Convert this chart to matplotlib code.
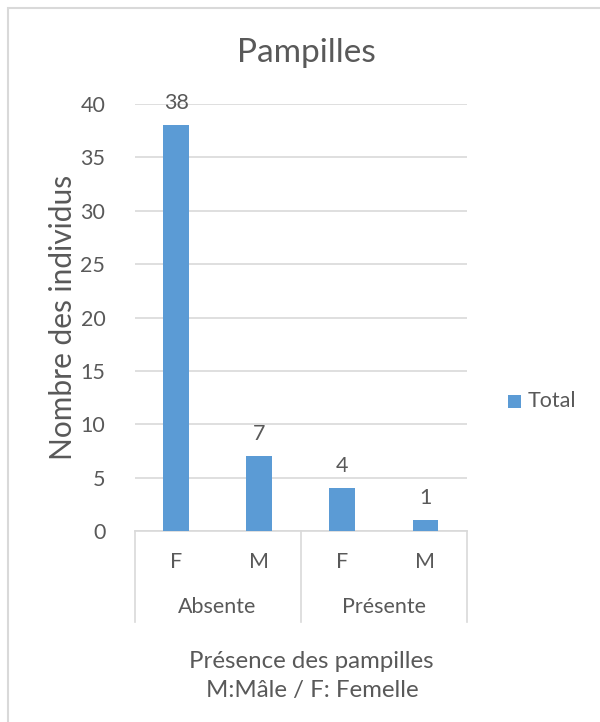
import matplotlib
matplotlib.use("Agg")
import matplotlib.pyplot as plt
import matplotlib.transforms as mtransforms
from matplotlib.patches import Rectangle

# Data
sexes = ["F", "M", "F", "M"]
groups = ["Absente", "Présente"]
totals = [38, 7, 4, 1]
yticks = [0, 5, 10, 15, 20, 25, 30, 35, 40]

plt.rcParams["font.family"] = ["Lato", "DejaVu Sans"]
TXT = "#595959"
BAR = "#5b9bd5"
GRID = "#d9d9d9"
FS = 15.5

W, H = 600, 722
fig = plt.figure(figsize=(W / 100, H / 100), dpi=100)

# Chart frame
fig.patches.append(Rectangle((8 / W, -0.1), 1.2, 1 - 7.5 / H + 0.1,
                             transform=fig.transFigure, fill=False,
                             edgecolor="#d9d9d9", linewidth=1.5))

left, right = 134.5 / W, 467 / W
bottom, top = (H - 531) / H, (H - 104) / H
ax = fig.add_axes([left, bottom, right - left, top - bottom])

x = list(range(len(totals)))
ax.bar(x, totals, width=0.31, color=BAR, zorder=3)
ax.set_xlim(-0.5, len(totals) - 0.5)
ax.set_ylim(0, 40)
ax.set_yticks(yticks)
ax.set_yticklabels([str(v) for v in yticks], fontsize=FS, color=TXT)
ax.tick_params(axis="y", length=0, pad=21)
ax.tick_params(axis="x", length=0)
ax.set_xticks([])
for s in ["top", "right", "left"]:
    ax.spines[s].set_visible(False)
ax.spines["bottom"].set_color(GRID)
ax.spines["bottom"].set_linewidth(1.2)
ax.yaxis.grid(True, color=GRID, linewidth=1.2, zorder=0)
ax.set_axisbelow(True)

# Value labels
for xi, v in zip(x, totals):
    ax.annotate(str(v), (xi, v), xytext=(0, 9), textcoords="offset points",
                ha="center", va="bottom", fontsize=FS, color=TXT)

# Multi-level category axis
trans = mtransforms.blended_transform_factory(ax.transData, ax.transAxes)
px = 1 / (531 - 104)
for xs in [-0.5, 1.5, 3.5]:
    ax.plot([xs, xs], [0, -91 * px], transform=trans, color=GRID,
            linewidth=1.2, clip_on=False)
for xi, s in zip(x, sexes):
    ax.text(xi, -31 * px, s, transform=trans, ha="center", va="center",
            fontsize=FS, color=TXT)
for gi, g in enumerate(groups):
    ax.text(gi * 2 + 0.5, -76 * px, g, transform=trans, ha="center",
            va="center", fontsize=FS, color=TXT)

# Titles
fig.text(306 / W, 1 - 53 / H, "Pampilles", ha="center", va="center",
         fontsize=24, color=TXT)
fig.text(63 / W, 1 - 317 / H, "Nombre des individus", ha="center",
         va="center", rotation=90, fontsize=21.5, color=TXT)
fig.text(311 / W, 1 - 661 / H, "Présence des pampilles", ha="center",
         va="center", fontsize=17.3, color=TXT)
fig.text(312 / W, 1 - 691 / H, "M:Mâle / F: Femelle", ha="center",
         va="center", fontsize=17.3, color=TXT)

# Legend
fig.patches.append(Rectangle((508 / W, 1 - 408 / H), 13 / W, 13 / H,
                             transform=fig.transFigure, facecolor=BAR,
                             edgecolor="none"))
fig.text(528 / W, 1 - 401 / H, "Total", ha="left", va="center",
         fontsize=FS, color=TXT)

fig.savefig("out.png", dpi=100)
